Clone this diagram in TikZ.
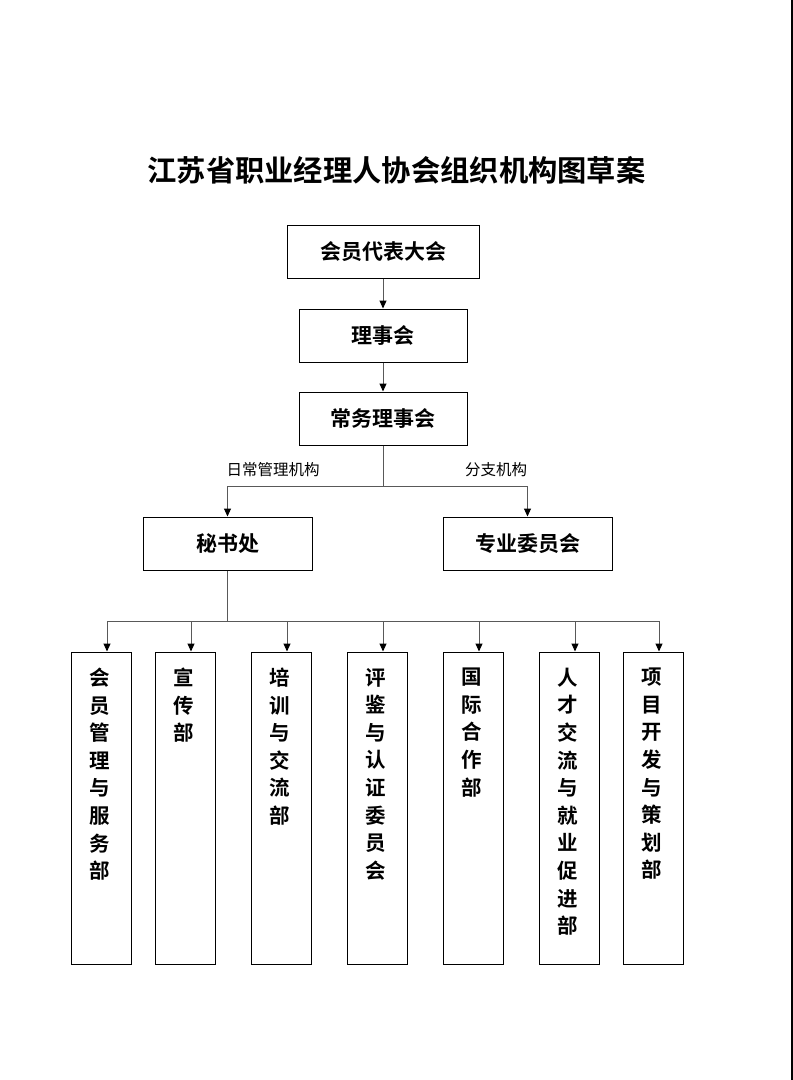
\documentclass[tikz,border=0pt]{standalone}
\usepackage{fontspec}
\newfontfamily\cjk{Noto Sans CJK SC}
\newfontfamily\cjkb{Noto Sans CJK SC Bold}
\usetikzlibrary{arrows.meta}
\begin{document}
\begin{tikzpicture}[x=1pt,y=-1pt,
  box/.style={draw=black,line width=1pt,inner sep=0pt,font=\cjkb\fontsize{21pt}{24pt}\selectfont},
  conn/.style={draw=black!65,line width=1pt},
  arr/.style={conn,-{Triangle[length=8pt,width=7pt,fill=black,color=black]}},
  lbl/.style={font=\cjk\fontsize{15.5pt}{17pt}\selectfont},
  vbox/.style={box,minimum width=60pt,minimum height=312pt}
]
\useasboundingbox (0,0) rectangle (793,1080);
\fill[white] (0,0) rectangle (793,1080);
\draw[black,line width=1.5pt] (792,0) -- (792,1080);

\newcommand{\vtext}[1]{\parbox[c][312pt][t]{60pt}{\centering\fontsize{20.5pt}{27.6pt}\selectfont\vspace*{16pt}\hspace*{-3pt}\parbox[t]{30pt}{\centering #1}\par}}

\node[font=\cjkb\fontsize{29.3pt}{32pt}\selectfont] (title) at (396.5,170) {江苏省职业经理人协会组织机构图草案};

\node[box,minimum width=192pt,minimum height=53pt] (n1) at (383,251.5) {会员代表大会};
\node[box,minimum width=168pt,minimum height=53pt] (n2) at (383,335.5) {理事会};
\node[box,minimum width=168pt,minimum height=53pt] (n3) at (383,418.5) {常务理事会};
\node[box,minimum width=169pt,minimum height=53pt] (mis) at (227.5,543.5) {秘书处};
\node[box,minimum width=169pt,minimum height=53pt] (zy) at (527.5,543.5) {专业委员会};

\draw[arr] (n1) -- (n2);
\draw[arr] (n2) -- (n3);

\coordinate (j1) at (383,486);
\draw[conn] (n3) -- (j1);
\draw[arr] (j1) -| (mis);
\draw[arr] (j1) -| (zy);
\node[lbl] (l1) at (273,470) {日常管理机构};
\node[lbl] (l2) at (496,470) {分支机构};

\node[vbox] (b1) at (101.5,808) {\vtext{会\\员\\管\\理\\与\\服\\务\\部}};
\node[vbox] (b2) at (185.5,808) {\vtext{宣\\传\\部}};
\node[vbox] (b3) at (281.5,808) {\vtext{培\\训\\与\\交\\流\\部}};
\node[vbox] (b4) at (377,808) {\vtext{评\\鉴\\与\\认\\证\\委\\员\\会}};
\node[vbox] (b5) at (473,808) {\vtext{国\\际\\合\\作\\部}};
\node[vbox] (b6) at (569,808) {\vtext{人\\才\\交\\流\\与\\就\\业\\促\\进\\部}};
\node[vbox] (b7) at (653,808) {\vtext{项\\目\\开\\发\\与\\策\\划\\部}};

\coordinate (j2) at (227,621);
\draw[conn] (mis.south -| j2) -- (j2);
\coordinate (t1) at (107,621);
\coordinate (t2) at (191,621);
\coordinate (t3) at (287,621);
\coordinate (t4) at (383,621);
\coordinate (t5) at (479,621);
\coordinate (t6) at (575,621);
\coordinate (t7) at (659,621);
\draw[conn] (t1) -- (t7);
\foreach \i in {1,...,7} {
  \draw[arr] (t\i) -- (t\i |- b\i.north);
}
\end{tikzpicture}
\end{document}
